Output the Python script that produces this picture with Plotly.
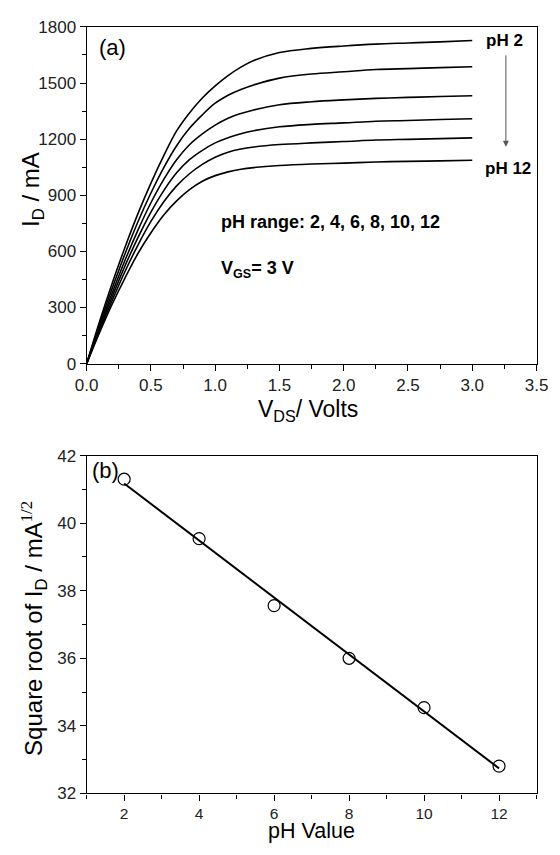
import numpy as np
import plotly.graph_objects as go

# ---- Panel (a) data: drain current vs drain-source voltage ----
vds = [0, 0.1, 0.2, 0.3, 0.4, 0.5, 0.6, 0.7, 0.8, 0.9, 1.0, 1.1, 1.2, 1.3,
       1.5, 1.75, 2.0, 2.25, 2.5, 2.75, 3.0]
id_ph2 = [0, 224, 432, 625, 803, 965, 1112, 1244, 1340, 1420, 1485, 1540, 1585, 1620,
          1663, 1685, 1698, 1708, 1714, 1720, 1727]
id_ph4 = [0, 210, 405, 590, 760, 912, 1048, 1165, 1258, 1330, 1392, 1435, 1466, 1490,
          1526, 1548, 1560, 1572, 1577, 1582, 1587]
id_ph6 = [0, 195, 380, 555, 715, 860, 985, 1090, 1170, 1228, 1275, 1312, 1337, 1356,
          1384, 1400, 1410, 1418, 1423, 1428, 1432]
id_ph8 = [0, 185, 360, 525, 675, 810, 925, 1020, 1090, 1140, 1180, 1208, 1229, 1245,
          1266, 1279, 1287, 1296, 1300, 1305, 1309]
id_ph10 = [0, 175, 340, 495, 635, 760, 865, 950, 1015, 1065, 1103, 1130, 1147, 1158,
           1171, 1180, 1187, 1195, 1199, 1203, 1207]
id_ph12 = [0, 165, 320, 460, 590, 700, 795, 870, 930, 975, 1005, 1025, 1039, 1048,
           1059, 1067, 1072, 1078, 1081, 1084, 1087]
curve_names = ["pH 2", "pH 4", "pH 6", "pH 8", "pH 10", "pH 12"]

# ---- Panel (b) data: sqrt(I_D) vs pH ----
ph_values = [2, 4, 6, 8, 10, 12]
sqrt_id = [41.3, 39.54, 37.56, 36.0, 34.54, 32.81]

W, H = 560, 855
FONT = "Liberation Sans, Arial, sans-serif"

def px(xp):
    return xp / W

def py(yp):
    return 1 - yp / H

fig = go.Figure()

for name, ys in zip(curve_names, [id_ph2, id_ph4, id_ph6, id_ph8, id_ph10, id_ph12]):
    fig.add_trace(go.Scatter(x=vds, y=ys, mode="lines", name=name,
                             line=dict(color="black", width=1.6, shape="spline", smoothing=1.0),
                             xaxis="x", yaxis="y", showlegend=False))

# linear fit for panel (b)
slope, intercept = np.polyfit(ph_values, sqrt_id, 1)
fit_x = [ph_values[0], ph_values[-1]]
fit_y = [slope * v + intercept for v in fit_x]
fig.add_trace(go.Scatter(x=fit_x, y=fit_y, mode="lines",
                         line=dict(color="black", width=2),
                         xaxis="x2", yaxis="y2", showlegend=False))
fig.add_trace(go.Scatter(x=ph_values, y=sqrt_id, mode="markers",
                         marker=dict(symbol="circle-open", size=12, color="black",
                                     line=dict(width=1.2, color="black")),
                         xaxis="x2", yaxis="y2", showlegend=False))

def axis_common(size=17):
    return dict(showline=True, linecolor="black", linewidth=1.2, mirror=True,
                ticks="outside", ticklen=6, tickwidth=1, tickcolor="black",
                showgrid=False, zeroline=False,
                tickfont=dict(family=FONT, size=size, color="#222"))

top_dom_x = [px(78), px(548)]
top_dom_y = [py(362.7), py(18.3)]
bot_dom_y = [py(802.3), py(456.7)]

fig.update_layout(
    width=W, height=H,
    margin=dict(l=0, r=0, t=0, b=0),
    plot_bgcolor="white", paper_bgcolor="white",
    xaxis=dict(domain=top_dom_x, anchor="y", range=[0, 3.5], dtick=0.5, tick0=0,
               tickformat=".1f",
               minor=dict(ticks="outside", ticklen=4, dtick=0.25, tickcolor="black"),
               **axis_common()),
    yaxis=dict(domain=top_dom_y, anchor="x", range=[0, 1800], dtick=300, tick0=0,
               minor=dict(ticks="outside", ticklen=4, dtick=150, tickcolor="black"),
               **axis_common()),
    xaxis2=dict(domain=top_dom_x, anchor="y2", range=[1, 13], dtick=2, tick0=0,
                minor=dict(ticks="outside", ticklen=4, dtick=1, tickcolor="black"),
                **axis_common(15.5)),
    yaxis2=dict(domain=bot_dom_y, anchor="x2", range=[32, 42], dtick=2, tick0=0,
                minor=dict(ticks="outside", ticklen=4, dtick=1, tickcolor="black"),
                **axis_common()),
)

ann = []
def paper_text(text, x, y, size, xanchor="center", yanchor="middle", angle=0, bold=False):
    t = f"<b>{text}</b>" if bold else text
    ann.append(dict(text=t, x=px(x), y=py(y), xref="paper", yref="paper",
                    xanchor=xanchor, yanchor=yanchor, textangle=angle, showarrow=False,
                    font=dict(family=FONT, size=size, color="black")))

# panel labels
paper_text("(a)", 89, 39, 22, xanchor="left")
paper_text("(b)", 81, 472, 22, xanchor="left")

# axis titles
paper_text("I<sub>D</sub> / mA", 22, 185, 24, angle=-90)
paper_text("V<sub>DS</sub>/ Volts", 309, 411, 23)
paper_text("Square root of I<sub>D</sub> / mA<sup><span style='font-family:Liberation Serif, Times New Roman, serif'>1/2</span></sup>",
           23, 634, 24, angle=-90)
paper_text("pH Value", 313, 855, 21.5, yanchor="bottom")

# panel (a) annotations
paper_text("pH 2", 515, 32, 17, bold=True)
paper_text("pH 12", 518, 163, 17, bold=True)
paper_text("pH range: 2, 4, 6, 8, 10, 12", 216, 218, 18, xanchor="left", bold=True)
paper_text("V<sub>GS</sub>= 3 V", 216, 266, 18, xanchor="left", bold=True)

# arrow from pH 2 to pH 12
ann.append(dict(x=px(516), y=py(141), xref="paper", yref="paper",
                ax=0, ay=-93, axref="pixel", ayref="pixel",
                showarrow=True, arrowhead=2, arrowsize=1.2, arrowwidth=1,
                arrowcolor="#555", text=""))

fig.update_layout(annotations=ann)

fig.write_html("out.html")
